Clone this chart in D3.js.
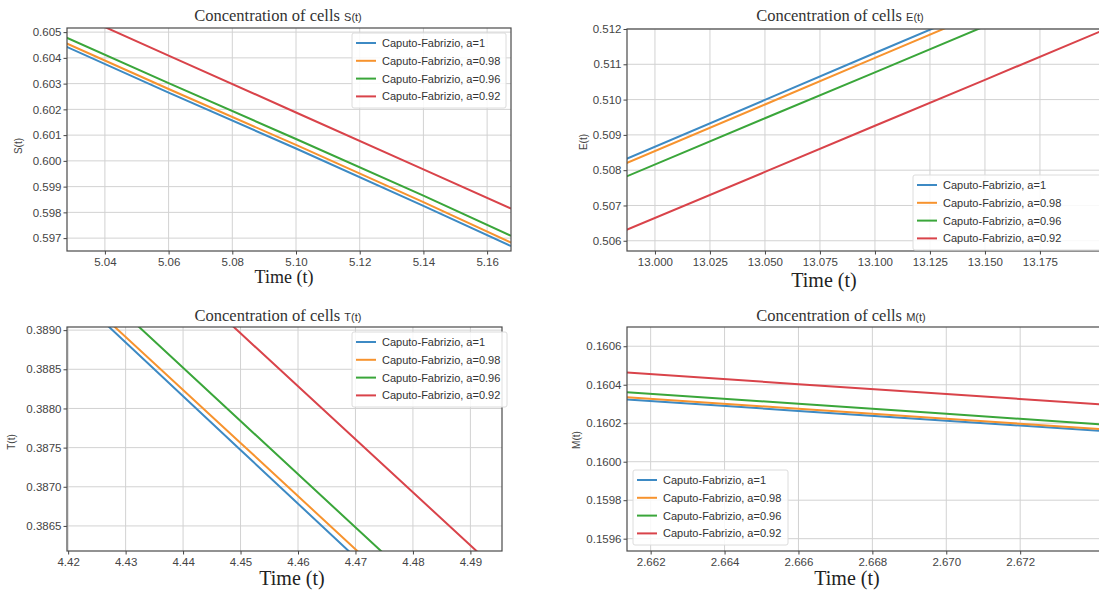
<!DOCTYPE html>
<html>
<head>
<meta charset="utf-8">
<script src="https://cdn.jsdelivr.net/npm/d3@7"></script>
<style>
  body { margin: 0; background: #fff; }
  svg { display: block; }
  .tick text { font-family: "Liberation Sans", Arial, sans-serif; font-size: 11.5px; fill: #444; }
  .tick line { stroke: #444; }
  .domain { display: none; }
</style>
</head>
<body>
<svg id="chart" width="1099" height="592"></svg>
<script>
// legend labels
const seriesNames = [
  "Caputo-Fabrizio, a=1",
  "Caputo-Fabrizio, a=0.98",
  "Caputo-Fabrizio, a=0.96",
  "Caputo-Fabrizio, a=0.92"
];
const seriesColors = ["#3d8ac4", "#f7932e", "#3aa63a", "#d9434a"];

// S(t)
const sTime = [5.028, 5.06, 5.10, 5.14, 5.1675];
const sA100 = [0.60443, 0.60265, 0.60048, 0.59825, 0.59669];
const sA098 = [0.60456, 0.60279, 0.60062, 0.59840, 0.59683];
const sA096 = [0.60478, 0.60302, 0.60085, 0.59865, 0.59709];
const sA092 = [0.60586, 0.60409, 0.60188, 0.59967, 0.59815];
const sXTicks = [5.04, 5.06, 5.08, 5.10, 5.12, 5.14, 5.16];
const sYTicks = [0.597, 0.598, 0.599, 0.600, 0.601, 0.602, 0.603, 0.604, 0.605];

// E(t)
const eTime = [12.987, 13.05, 13.10, 13.15, 13.202];
const eA100 = [0.50832, 0.50999, 0.51132, 0.51264, 0.51402];
const eA098 = [0.50820, 0.50986, 0.51118, 0.51250, 0.51387];
const eA096 = [0.50782, 0.50947, 0.51077, 0.51208, 0.51344];
const eA092 = [0.50631, 0.50795, 0.50926, 0.51056, 0.51192];
const eXTicks = [13.000, 13.025, 13.050, 13.075, 13.100, 13.125, 13.150, 13.175];
const eYTicks = [0.506, 0.507, 0.508, 0.509, 0.510, 0.511, 0.512];

// T(t)
const tTime = [4.42, 4.45, 4.4955];
const tA100 = [0.38953, 0.38747, 0.38435];
const tA098 = [0.38959, 0.38756, 0.38447];
const tA096 = [0.38988, 0.38784, 0.38475];
const tA092 = [0.39099, 0.38896, 0.38588];
const tXTicks = [4.42, 4.43, 4.44, 4.45, 4.46, 4.47, 4.48, 4.49];
const tYTicks = [0.3865, 0.3870, 0.3875, 0.3880, 0.3885, 0.3890];

// M(t)
const mTime = [2.66136, 2.666, 2.670, 2.6745];
const mA100 = [0.160323, 0.160264, 0.160213, 0.160156];
const mA098 = [0.160335, 0.160275, 0.160223, 0.160165];
const mA096 = [0.160361, 0.160301, 0.160249, 0.160190];
const mA092 = [0.160463, 0.160403, 0.160352, 0.160294];
const mXTicks = [2.662, 2.664, 2.666, 2.668, 2.670, 2.672];
const mYTicks = [0.1596, 0.1598, 0.1600, 0.1602, 0.1604, 0.1606];

const svg = d3.select("#chart");

const panels = [
  {
    id: "s", name: "S(t)", time: sTime, values: [sA100, sA098, sA096, sA092],
    xDomain: [5.0281, 5.1675], yDomain: [0.59650, 0.60516],
    xTicks: sXTicks, yTicks: sYTicks, xFmt: ".2f", yFmt: ".3f",
    box: { left: 67, right: 511, top: 28, bottom: 251 },
    title: { x: 278, y: 21 }, xlab: { x: 284, y: 283, size: 18 }, ylab: { x: 22, y: 146 },
    legend: { x: 352, y: 33, w: 154 }
  },
  {
    id: "e", name: "E(t)", time: eTime, values: [eA100, eA098, eA096, eA092],
    xDomain: [12.9873, 13.2023], yDomain: [0.50571, 0.512],
    xTicks: eXTicks, yTicks: eYTicks, xFmt: ".3f", yFmt: ".3f",
    box: { left: 627, right: 1100, top: 29, bottom: 251 },
    title: { x: 840, y: 21 }, xlab: { x: 824, y: 287, size: 20 }, ylab: { x: 587, y: 142 },
    legend: { x: 913, y: 175, w: 192 }
  },
  {
    id: "t", name: "T(t)", time: tTime, values: [tA100, tA098, tA096, tA092],
    xDomain: [4.4198, 4.4955], yDomain: [0.38618, 0.38904],
    xTicks: tXTicks, yTicks: tYTicks, xFmt: ".2f", yFmt: ".4f",
    box: { left: 67, right: 502, top: 327, bottom: 551 },
    title: { x: 278, y: 321 }, xlab: { x: 292, y: 585, size: 20 }, ylab: { x: 15, y: 442 },
    legend: { x: 352, y: 332, w: 155 }
  },
  {
    id: "m", name: "M(t)", time: mTime, values: [mA100, mA098, mA096, mA092],
    xDomain: [2.66136, 2.67416], yDomain: [0.159536, 0.16070],
    xTicks: mXTicks, yTicks: mYTicks, xFmt: ".3f", yFmt: ".4f",
    box: { left: 627, right: 1100, top: 327, bottom: 551 },
    title: { x: 841, y: 321 }, xlab: { x: 847, y: 585, size: 20 }, ylab: { x: 580, y: 440 },
    legend: { x: 633, y: 470, w: 155 }
  }
];

panels.forEach(drawPanel);

function drawPanel(p) {
  const b = p.box;
  const w = b.right - b.left;
  const h = b.bottom - b.top;

  const x = d3.scaleLinear().domain(p.xDomain).range([0, w]);
  const y = d3.scaleLinear().domain(p.yDomain).range([h, 0]);

  const g = svg.append("g").attr("transform", `translate(${b.left},${b.top})`);

  svg.append("clipPath").attr("id", "clip-" + p.id)
    .append("rect").attr("width", w).attr("height", h);

  // grid
  g.append("g")
    .selectAll("line")
    .data(p.xTicks)
    .join("line")
    .attr("x1", d => x(d)).attr("x2", d => x(d))
    .attr("y1", 0).attr("y2", h)
    .attr("stroke", "#d2d2d2").attr("stroke-width", 1);
  g.append("g")
    .selectAll("line")
    .data(p.yTicks)
    .join("line")
    .attr("x1", 0).attr("x2", w)
    .attr("y1", d => y(d)).attr("y2", d => y(d))
    .attr("stroke", "#d2d2d2").attr("stroke-width", 1);

  // axes
  g.append("g")
    .attr("transform", `translate(0,${h})`)
    .call(d3.axisBottom(x).tickValues(p.xTicks).tickFormat(d3.format(p.xFmt)).tickSize(3.5).tickPadding(3));
  g.append("g")
    .call(d3.axisLeft(y).tickValues(p.yTicks).tickFormat(d3.format(p.yFmt)).tickSize(3.5).tickPadding(2));

  // lines
  const line = d3.line()
    .x((d, i) => x(p.time[i]))
    .y(d => y(d));

  g.append("g")
    .attr("clip-path", `url(#clip-${p.id})`)
    .selectAll("path")
    .data(p.values)
    .join("path")
    .attr("d", d => line(d))
    .attr("fill", "none")
    .attr("stroke", (d, i) => seriesColors[i])
    .attr("stroke-width", 2);

  // frame
  g.append("rect")
    .attr("width", w).attr("height", h)
    .attr("fill", "none")
    .attr("stroke", "#4a4a4a").attr("stroke-width", 1.2);

  // title
  const t = svg.append("text")
    .attr("x", p.title.x).attr("y", p.title.y)
    .attr("text-anchor", "middle")
    .attr("fill", "#333");
  t.append("tspan")
    .attr("font-family", "'Liberation Serif', 'Times New Roman', serif")
    .attr("font-size", 16.5)
    .text("Concentration of cells ");
  t.append("tspan")
    .attr("font-family", "'Liberation Sans', Arial, sans-serif")
    .attr("font-size", 11)
    .text(p.name);

  // x label
  svg.append("text")
    .attr("x", p.xlab.x).attr("y", p.xlab.y)
    .attr("text-anchor", "middle")
    .attr("font-family", "'Liberation Serif', 'Times New Roman', serif")
    .attr("font-size", p.xlab.size)
    .attr("fill", "#222")
    .text("Time (t)");

  // y label
  svg.append("text")
    .attr("transform", `translate(${p.ylab.x},${p.ylab.y}) rotate(-90)`)
    .attr("text-anchor", "middle")
    .attr("font-family", "'Liberation Sans', Arial, sans-serif")
    .attr("font-size", 10)
    .attr("fill", "#444")
    .text(p.name);

  // legend
  const lg = svg.append("g").attr("transform", `translate(${p.legend.x},${p.legend.y})`);
  lg.append("rect")
    .attr("width", p.legend.w).attr("height", 75)
    .attr("rx", 2)
    .attr("fill", "#fff").attr("fill-opacity", 0.85)
    .attr("stroke", "#dcdcdc");
  const rows = lg.selectAll("g")
    .data(seriesNames)
    .join("g")
    .attr("transform", (d, i) => `translate(0,${10 + i * 17.8})`);
  rows.append("line")
    .attr("x1", 4).attr("x2", 24)
    .attr("stroke", (d, i) => seriesColors[i])
    .attr("stroke-width", 2);
  rows.append("text")
    .attr("x", 30).attr("y", 4)
    .attr("font-family", "'Liberation Sans', Arial, sans-serif")
    .attr("font-size", 11)
    .attr("fill", "#333")
    .text(d => d);
}
</script>
</body>
</html>
